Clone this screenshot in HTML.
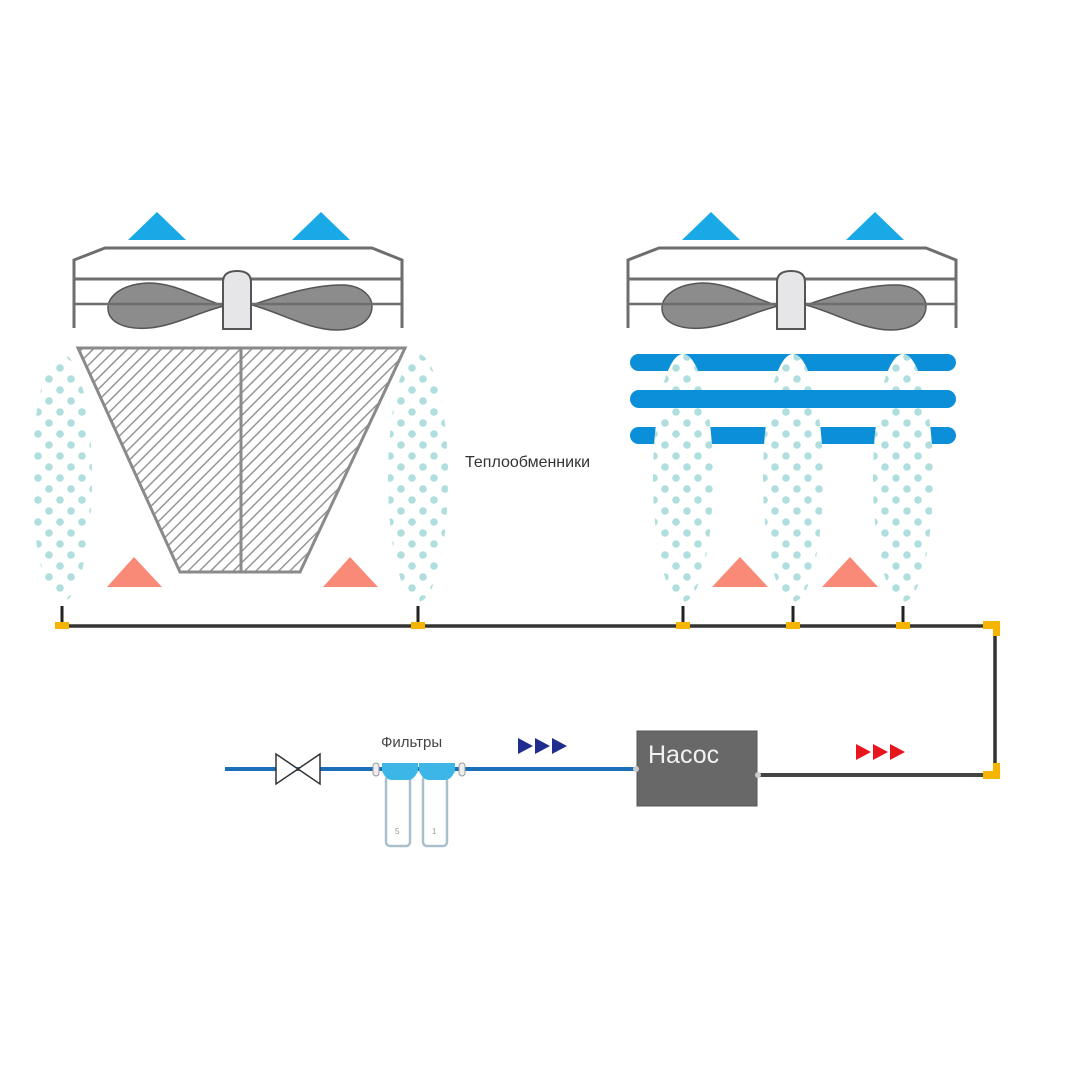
<!DOCTYPE html>
<html><head><meta charset="utf-8"><style>
html,body{margin:0;padding:0;background:#fff;}
svg{display:block;}
text{font-family:"Liberation Sans",sans-serif;}
</style></head><body>
<svg width="1080" height="1080" viewBox="0 0 1080 1080" xmlns="http://www.w3.org/2000/svg">
<defs>
<pattern id="dots" width="22" height="22" patternUnits="userSpaceOnUse">
<circle cx="5" cy="5" r="3.8" fill="#b0dede"/>
<circle cx="16" cy="16" r="3.8" fill="#b0dede"/>
</pattern>
<pattern id="hatch" width="8" height="8" patternUnits="userSpaceOnUse" patternTransform="rotate(45)">
<rect width="8" height="8" fill="#fff"/>
<rect x="0" y="0" width="1.5" height="8" fill="#959595"/>
</pattern>
<g id="unit">
<polyline points="0,328 0,260 31,248 298,248 328,260 328,328" fill="none" stroke="#6e6e6e" stroke-width="3"/>
<line x1="0" y1="279" x2="328" y2="279" stroke="#6e6e6e" stroke-width="3"/>
<path d="M150,306 C120,296 100,283 75,283 C45,284 34,298 34,308 C34,322 50,330 75,328 C100,326 125,312 150,306 Z" fill="#8c8c8c" stroke="#555" stroke-width="1.5"/>
<path d="M178,305 C205,296 240,284 270,285 C290,286 298,298 298,306 C298,320 285,330 262,330 C235,330 205,312 178,305 Z" fill="#8c8c8c" stroke="#555" stroke-width="1.5"/>
<line x1="0" y1="304" x2="328" y2="304" stroke="#6e6e6e" stroke-width="2.5"/>
<path d="M149,329 L149,282 Q149,271 163,271 Q177,271 177,282 L177,329 Z" fill="#e6e6e8" stroke="#555" stroke-width="2"/>
</g>
</defs>

<polygon points="128,240 157,212 186,240" fill="#19a9e6"/>
<polygon points="292,240 321,212 350,240" fill="#19a9e6"/>
<polygon points="682,240 711,212 740,240" fill="#19a9e6"/>
<polygon points="846,240 875,212 904,240" fill="#19a9e6"/>

<use href="#unit" x="74" y="0"/>
<use href="#unit" x="628" y="0"/>

<ellipse cx="62" cy="478" rx="30" ry="124" fill="url(#dots)"/>
<ellipse cx="418" cy="478" rx="30" ry="124" fill="url(#dots)"/>
<polygon points="78,348 405,348 300,572 180,572" fill="url(#hatch)" stroke="#8a8a8a" stroke-width="3"/>
<line x1="241" y1="348" x2="241" y2="572" stroke="#8a8a8a" stroke-width="3"/>

<rect x="630" y="354" width="326" height="17" rx="8.5" fill="#0b8fd9"/>
<rect x="630" y="427" width="326" height="17" rx="8.5" fill="#0b8fd9"/>
<ellipse cx="683" cy="478" rx="30" ry="124" fill="#fff"/>
<ellipse cx="793" cy="478" rx="30" ry="124" fill="#fff"/>
<ellipse cx="903" cy="478" rx="30" ry="124" fill="#fff"/>
<ellipse cx="683" cy="478" rx="30" ry="124" fill="url(#dots)"/>
<ellipse cx="793" cy="478" rx="30" ry="124" fill="url(#dots)"/>
<ellipse cx="903" cy="478" rx="30" ry="124" fill="url(#dots)"/>
<rect x="630" y="390" width="326" height="18" rx="9" fill="#0b8fd9"/>

<polygon points="107,587 134,557 162,587" fill="#f98a78"/>
<polygon points="323,587 350,557 378,587" fill="#f98a78"/>
<polygon points="712,587 740,557 768,587" fill="#f98a78"/>
<polygon points="822,587 850,557 878,587" fill="#f98a78"/>

<text x="465" y="467" font-size="16" fill="#333">Теплообменники</text>

<line x1="56" y1="626" x2="995" y2="626" stroke="#333" stroke-width="3.5"/>
<line x1="995" y1="626" x2="995" y2="775" stroke="#333" stroke-width="3.5"/>
<line x1="758" y1="775" x2="995" y2="775" stroke="#444" stroke-width="4"/>
<g fill="#f5b400">
<rect x="55" y="622" width="14" height="7"/>
<rect x="411" y="622" width="14" height="7"/>
<rect x="676" y="622" width="14" height="7"/>
<rect x="786" y="622" width="14" height="7"/>
<rect x="896" y="622" width="14" height="7"/>
<path d="M983,621 L1000,621 L1000,636 L993,636 L993,629 L983,629 Z"/>
<path d="M983,771 L993,771 L993,763 L1000,763 L1000,779 L983,779 Z"/>
</g>
<g stroke="#222" stroke-width="3">
<line x1="62" y1="606" x2="62" y2="622"/>
<line x1="418" y1="606" x2="418" y2="622"/>
<line x1="683" y1="606" x2="683" y2="622"/>
<line x1="793" y1="606" x2="793" y2="622"/>
<line x1="903" y1="606" x2="903" y2="622"/>
</g>

<line x1="225" y1="769" x2="637" y2="769" stroke="#1a6fb8" stroke-width="4"/>
<polygon points="276,754 298,769 276,784" fill="#fff" stroke="#333" stroke-width="1.5"/>
<polygon points="320,754 298,769 320,784" fill="#fff" stroke="#333" stroke-width="1.5"/>

<rect x="373" y="763" width="6" height="13" rx="3" fill="#eee" stroke="#999"/>
<rect x="459" y="763" width="6" height="13" rx="3" fill="#eee" stroke="#999"/>
<rect x="386" y="776" width="24" height="70" rx="4" fill="#fff" stroke="#a9c0cc" stroke-width="2.5"/>
<rect x="423" y="776" width="24" height="70" rx="4" fill="#fff" stroke="#a9c0cc" stroke-width="2.5"/>
<path d="M382,763 L418,763 L418,771 Q414,780 408,780 L392,780 Q386,780 382,771 Z" fill="#3cb6e6"/>
<path d="M419,763 L455,763 L455,771 Q451,780 445,780 L429,780 Q423,780 419,771 Z" fill="#3cb6e6"/>
<text x="395" y="834" font-size="8" fill="#999">5</text>
<text x="432" y="834" font-size="8" fill="#999">1</text>
<text x="381" y="747" font-size="15" fill="#444">Фильтры</text>

<g fill="#1f2e8e">
<polygon points="518,738 533,746 518,754"/>
<polygon points="535,738 550,746 535,754"/>
<polygon points="552,738 567,746 552,754"/>
</g>
<g fill="#e8141e">
<polygon points="856,744 871,752 856,760"/>
<polygon points="873,744 888,752 873,760"/>
<polygon points="890,744 905,752 890,760"/>
</g>

<rect x="637" y="731" width="120" height="75" fill="#686868" stroke="#555"/>
<text x="648" y="763" font-size="25" fill="#f2f2f2">Насос</text>
<circle cx="758" cy="775" r="3" fill="#ccc"/>
<circle cx="636" cy="769" r="3" fill="#ccc"/>
</svg>
</body></html>
